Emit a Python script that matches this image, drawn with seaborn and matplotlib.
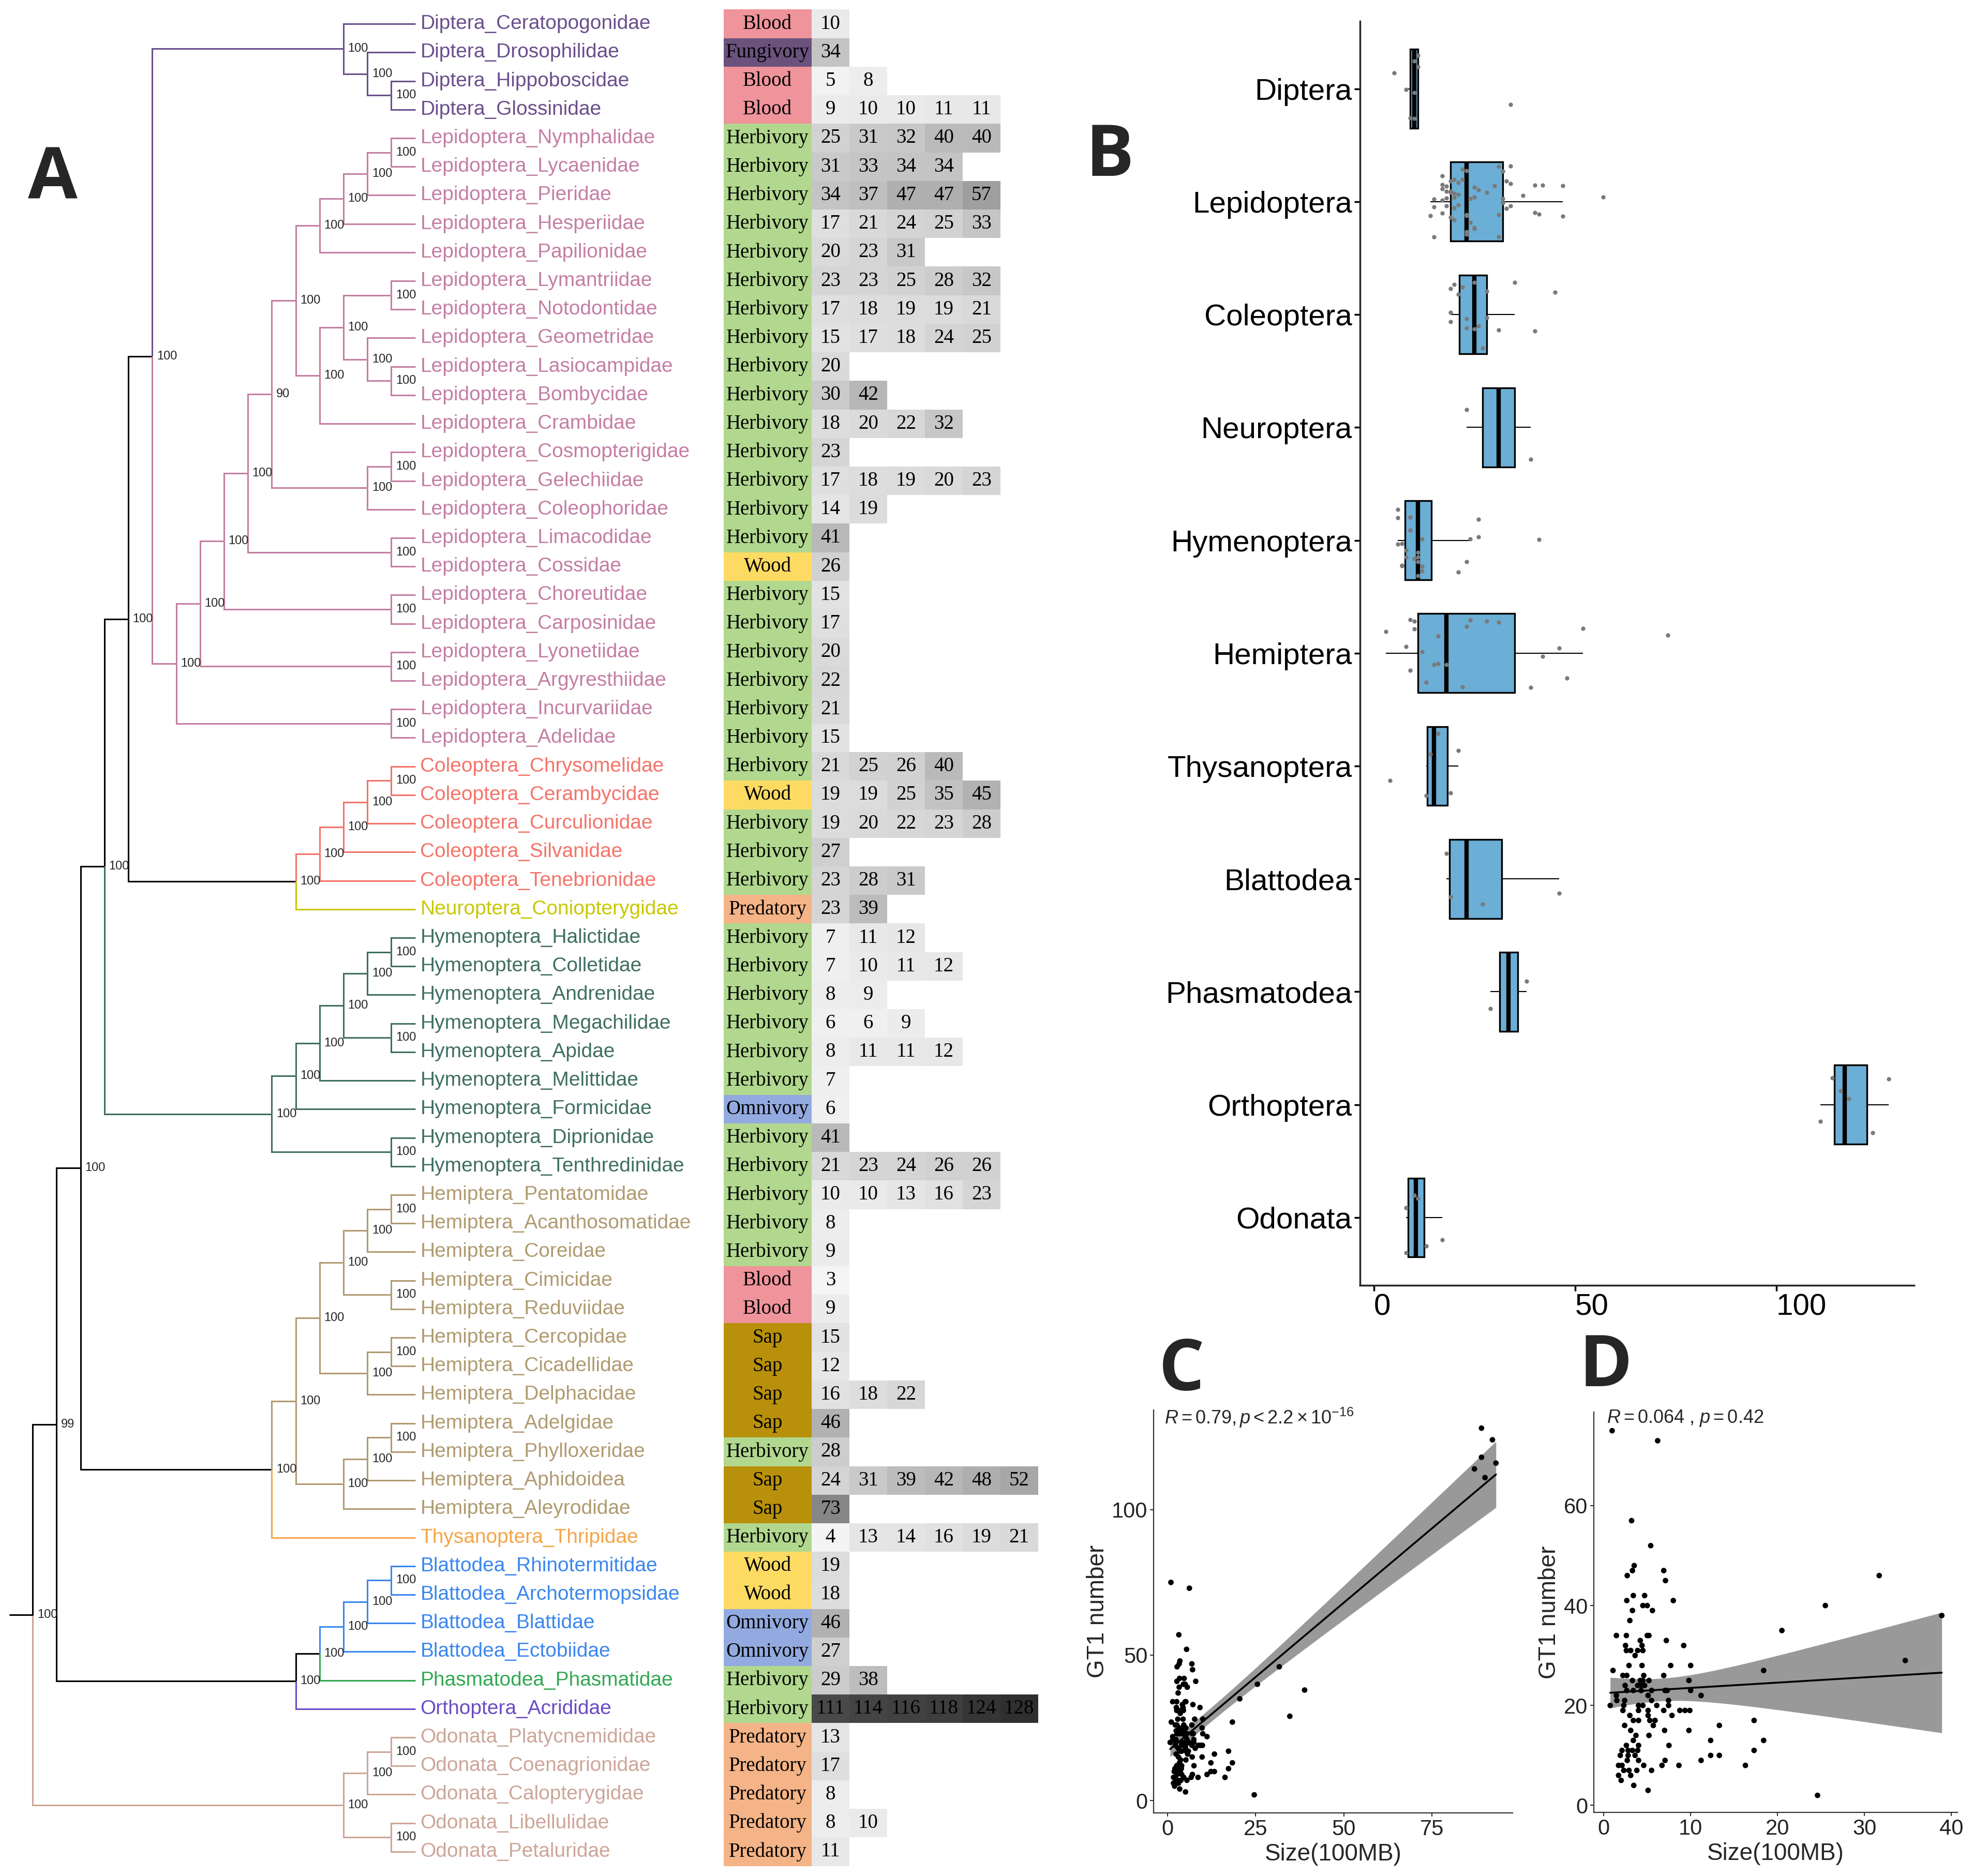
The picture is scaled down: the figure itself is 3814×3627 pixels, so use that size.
import numpy as np
import pandas as pd
import seaborn as sns
import matplotlib.pyplot as plt
from matplotlib.colors import LinearSegmentedColormap, ListedColormap


# -----------------------------
# DATA
# -----------------------------
ORDER_COLORS = {
    "Diptera": "#6A4F8C", "Lepidoptera": "#C47EA3", "Coleoptera": "#F37469",
    "Neuroptera": "#C8C800", "Hymenoptera": "#3F6E62", "Hemiptera": "#B09A70",
    "Thysanoptera": "#F5A547", "Blattodea": "#3A86EE", "Phasmatodea": "#33A852",
    "Orthoptera": "#6A4BC4", "Odonata": "#CCA698",
}

DIET_KEYS = ["Blood", "Fungivory", "Herbivory", "Wood", "Predatory", "Omnivory", "Sap"]
DIET_COLORS = ["#EF949B", "#6A527D", "#B1D88E", "#FDDB63", "#F4B487", "#92AADF", "#B8900A"]

# diet per family, top to bottom
DIET = [
    "Blood", "Fungivory", "Blood", "Blood",
    "Herbivory", "Herbivory", "Herbivory", "Herbivory", "Herbivory",
    "Herbivory", "Herbivory", "Herbivory", "Herbivory", "Herbivory", "Herbivory",
    "Herbivory", "Herbivory", "Herbivory", "Herbivory", "Wood", "Herbivory", "Herbivory",
    "Herbivory", "Herbivory", "Herbivory", "Herbivory",
    "Herbivory", "Wood", "Herbivory", "Herbivory", "Herbivory", "Predatory",
    "Herbivory", "Herbivory", "Herbivory", "Herbivory", "Herbivory", "Herbivory",
    "Omnivory", "Herbivory", "Herbivory",
    "Herbivory", "Herbivory", "Herbivory", "Blood", "Blood", "Sap", "Sap", "Sap",
    "Sap", "Herbivory", "Sap", "Sap",
    "Herbivory",
    "Wood", "Wood", "Omnivory", "Omnivory", "Herbivory", "Herbivory",
    "Predatory", "Predatory", "Predatory", "Predatory", "Predatory",
]

# GT1 numbers of the species in each family, top to bottom
GT1 = [
    [10], [34], [5, 8], [9, 10, 10, 11, 11],
    [25, 31, 32, 40, 40], [31, 33, 34, 34], [34, 37, 47, 47, 57], [17, 21, 24, 25, 33], [20, 23, 31],
    [23, 23, 25, 28, 32], [17, 18, 19, 19, 21], [15, 17, 18, 24, 25], [20], [30, 42], [18, 20, 22, 32],
    [23], [17, 18, 19, 20, 23], [14, 19], [41], [26], [15], [17], [20], [22], [21], [15],
    [21, 25, 26, 40], [19, 19, 25, 35, 45], [19, 20, 22, 23, 28], [27], [23, 28, 31], [23, 39],
    [7, 11, 12], [7, 10, 11, 12], [8, 9], [6, 6, 9], [8, 11, 11, 12], [7], [6], [41], [21, 23, 24, 26, 26],
    [10, 10, 13, 16, 23], [8], [9], [3], [9], [15], [12], [16, 18, 22], [46], [28],
    [24, 31, 39, 42, 48, 52], [73],
    [4, 13, 14, 16, 19, 21],
    [19], [18], [46], [27], [29, 38], [111, 114, 116, 118, 124, 128],
    [13], [17], [8], [8, 10], [11],
]

ORDERS_B = ["Diptera", "Lepidoptera", "Coleoptera", "Neuroptera", "Hymenoptera", "Hemiptera",
            "Thysanoptera", "Blattodea", "Phasmatodea", "Orthoptera", "Odonata"]

# genome size (100MB) vs GT1 number, all species except Orthoptera
SIZE = [0.96, 6.2, 3.2, 5.4, 3.5, 3.3, 2.7, 6.9, 7.1, 2.65, 3.4, 4.7, 8.0,
        4.5, 5.0, 3.3, 5.6, 3.0, 1.45, 2.6, 5.0, 5.2, 4.2, 7.2, 2.5, 4.4, 9.2,
        2.6, 3.1, 3.9, 4.5, 3.6, 2.9, 4.4, 7.7, 10.0, 1.06, 2.2, 2.65, 4.6, 6.9,
        3.3, 4.2, 4.5, 5.2, 9.8, 2.45, 3.9, 4.3, 4.7, 2.65, 3.4, 4.3, 5.5, 7.05,
        7.3, 10.0, 1.45, 5.1, 11.2, 1.5, 2.4, 5.5, 7.45, 0.74, 2.3, 4.0, 4.5, 6.1,
        7.45, 2.2, 4.0, 5.1, 6.9, 8.75, 9.35, 9.9, 3.0, 5.1, 7.85, 3.4, 4.0, 5.3,
        5.9, 2.4, 5.7, 13.3, 3.1, 7.0, 9.8, 3.7, 5.2, 3.4, 12.3, 2.6, 4.0, 7.5,
        2.1, 2.8, 3.3, 3.9, 1.9, 2.8, 3.6, 12.3, 13.3, 2.7, 4.0, 7.05, 11.2, 1.7,
        2.1, 4.6, 6.7, 8.65, 2.3, 2.9, 3.8, 5.5, 1.7, 3.1, 2.0, 3.45, 5.1,
        31.7, 25.5, 20.5, 38.9, 34.7, 18.4, 17.3, 18.4, 17.3, 16.3, 24.6]
COUNT = [75, 73, 57, 52, 48, 47, 46, 47, 45, 41, 42, 42, 41,
         40, 40, 39, 39, 37, 34, 34, 34, 34, 33, 33, 32, 32, 32,
         31, 31, 31, 31, 30, 28, 28, 28, 28, 27, 26, 26, 26, 26,
         25, 25, 25, 25, 25, 24, 24, 24, 24, 23, 23, 23, 23, 23,
         23, 23, 22, 22, 22, 21, 21, 21, 21, 20, 20, 20, 20, 20,
         20, 19, 19, 19, 19, 19, 19, 19, 18, 18, 18, 17, 17, 17,
         17, 16, 16, 16, 15, 15, 15, 14, 14, 13, 13, 12, 12, 12,
         11, 11, 11, 11, 10, 10, 10, 10, 10, 9, 9, 9, 9, 8,
         8, 8, 8, 8, 7, 7, 7, 7, 6, 6, 5, 4, 3,
         46, 40, 35, 38, 29, 27, 17, 13, 11, 8, 2]
SIZE_ORTHO = [89.1, 92.2, 89.1, 87.1, 93.2, 90.1]
COUNT_ORTHO = [128, 124, 118, 114, 116, 111]


# -----------------------------
# TREE (cladogram, bootstrap values)
# -----------------------------
def clade(a, b, support=100):
    return {"kids": [a, b], "support": support}


dip = clade("Diptera_Ceratopogonidae",
            clade("Diptera_Drosophilidae", clade("Diptera_Hippoboscidae", "Diptera_Glossinidae")))
papil = clade(clade(clade(clade("Lepidoptera_Nymphalidae", "Lepidoptera_Lycaenidae"),
                          "Lepidoptera_Pieridae"), "Lepidoptera_Hesperiidae"), "Lepidoptera_Papilionidae")
bomb = clade(clade(clade("Lepidoptera_Lymantriidae", "Lepidoptera_Notodontidae"),
                   clade("Lepidoptera_Geometridae",
                         clade("Lepidoptera_Lasiocampidae", "Lepidoptera_Bombycidae"))),
             "Lepidoptera_Crambidae")
gel = clade(clade("Lepidoptera_Cosmopterigidae", "Lepidoptera_Gelechiidae"), "Lepidoptera_Coleophoridae")
lep = clade(clade(clade(clade(clade(clade(papil, bomb), gel, 90),
                              clade("Lepidoptera_Limacodidae", "Lepidoptera_Cossidae")),
                        clade("Lepidoptera_Choreutidae", "Lepidoptera_Carposinidae")),
                  clade("Lepidoptera_Lyonetiidae", "Lepidoptera_Argyresthiidae")),
            clade("Lepidoptera_Incurvariidae", "Lepidoptera_Adelidae"))
col = clade(clade(clade(clade(clade("Coleoptera_Chrysomelidae", "Coleoptera_Cerambycidae"),
                              "Coleoptera_Curculionidae"), "Coleoptera_Silvanidae"),
                  "Coleoptera_Tenebrionidae"), "Neuroptera_Coniopterygidae")
hym = clade(clade(clade(clade(clade(clade("Hymenoptera_Halictidae", "Hymenoptera_Colletidae"),
                                    "Hymenoptera_Andrenidae"),
                              clade("Hymenoptera_Megachilidae", "Hymenoptera_Apidae")),
                        "Hymenoptera_Melittidae"), "Hymenoptera_Formicidae"),
            clade("Hymenoptera_Diprionidae", "Hymenoptera_Tenthredinidae"))
hem = clade(clade(clade(clade(clade("Hemiptera_Pentatomidae", "Hemiptera_Acanthosomatidae"),
                              "Hemiptera_Coreidae"),
                        clade("Hemiptera_Cimicidae", "Hemiptera_Reduviidae")),
                  clade(clade("Hemiptera_Cercopidae", "Hemiptera_Cicadellidae"), "Hemiptera_Delphacidae")),
            clade(clade(clade("Hemiptera_Adelgidae", "Hemiptera_Phylloxeridae"), "Hemiptera_Aphidoidea"),
                  "Hemiptera_Aleyrodidae"))
bpo = clade(clade(clade(clade(clade("Blattodea_Rhinotermitidae", "Blattodea_Archotermopsidae"),
                              "Blattodea_Blattidae"), "Blattodea_Ectobiidae"),
                  "Phasmatodea_Phasmatidae"), "Orthoptera_Acrididae")
odo = clade(clade(clade("Odonata_Platycnemididae", "Odonata_Coenagrionidae"), "Odonata_Calopterygidae"),
            clade("Odonata_Libellulidae", "Odonata_Petaluridae"))
TREE = clade(clade(clade(clade(clade(clade(dip, lep), col), hym), clade(hem, "Thysanoptera_Thripidae")),
                   bpo, 99), odo)

TIP_X, STEP, LABEL_X = 330, 19, 334

tips = []


def layout(node):
    if isinstance(node, str):
        tips.append(node)
        return {"y": len(tips) - 1, "h": 0, "orders": {node.split("_")[0]}, "kids": [], "name": node}
    kids = [layout(k) for k in node["kids"]]
    return {"y": np.mean([k["y"] for k in kids]), "h": 1 + max(k["h"] for k in kids),
            "orders": set().union(*[k["orders"] for k in kids]), "kids": kids,
            "support": node["support"]}


root = layout(TREE)


def xpos(n):
    return TIP_X - STEP * n["h"]


# -----------------------------
# STYLE
# -----------------------------
sns.set_style("ticks")
plt.rcParams["font.family"] = ["Liberation Sans", "DejaVu Sans"]
plt.rcParams["mathtext.fontset"] = "custom"
plt.rcParams["mathtext.rm"] = "Liberation Sans"
plt.rcParams["mathtext.it"] = "Liberation Sans:italic"

fig = plt.figure(figsize=(38.14, 36.27), dpi=100)

# -----------------------------
# PANEL A: TREE
# -----------------------------
ax_tree = fig.add_axes([0.0, 0.00537, 0.3667, 0.98953])
ax_tree.set_xlim(0, 575)
ax_tree.set_ylim(len(tips) - 0.5, -0.5)
ax_tree.axis("off")


def draw(node):
    for k in node["kids"]:
        c = ORDER_COLORS[next(iter(k["orders"]))] if len(k["orders"]) == 1 else "black"
        ax_tree.plot([xpos(node), xpos(node), xpos(k)], [node["y"], k["y"], k["y"]],
                     color=c, lw=2.2, solid_joinstyle="miter", solid_capstyle="butt")
        draw(k)
    if node["kids"]:
        ax_tree.text(xpos(node) + 3.5, node["y"], str(node["support"]), fontsize=17,
                     ha="left", va="center")
    else:
        ax_tree.text(LABEL_X, node["y"], node["name"], fontsize=28, ha="left", va="center",
                     color=ORDER_COLORS[node["name"].split("_")[0]])


draw(root)
ax_tree.plot([xpos(root) - 18, xpos(root)], [root["y"], root["y"]], color="black", lw=2.2)

# -----------------------------
# PANEL A: DIET + GT1 HEATMAPS
# -----------------------------
ax_diet = fig.add_axes([0.36671, 0.00537, 0.04464, 0.98953])
codes = np.array([DIET_KEYS.index(d) for d in DIET]).reshape(-1, 1)
sns.heatmap(codes, ax=ax_diet, cmap=ListedColormap(DIET_COLORS), vmin=-0.5,
            vmax=len(DIET_KEYS) - 0.5, cbar=False, annot=np.array(DIET).reshape(-1, 1), fmt="",
            annot_kws={"fontsize": 28, "family": "Liberation Serif", "color": "black"},
            xticklabels=False, yticklabels=False, linewidths=0)

mat = np.full((len(GT1), 6), np.nan)
for i, vals in enumerate(GT1):
    mat[i, :len(vals)] = vals
ax_num = fig.add_axes([0.41135, 0.00537, 0.11480, 0.98953])
grey = LinearSegmentedColormap.from_list("grey", ["#FAFAFA", "#2F2F2F"])
sns.heatmap(mat, ax=ax_num, cmap=grey, vmin=0, vmax=128, cbar=False, annot=True, fmt=".0f",
            annot_kws={"fontsize": 28, "family": "Liberation Serif", "color": "black"},
            xticklabels=False, yticklabels=False, linewidths=0)
for a in (ax_diet, ax_num):
    a.set_xticks([])
    a.set_yticks([])

# -----------------------------
# PANEL B: BOXPLOT BY ORDER
# -----------------------------
rows = []
for name, vals in zip(tips, GT1):
    for v in vals:
        rows.append({"order": name.split("_")[0], "gt1": v})
df_b = pd.DataFrame(rows)

np.random.seed(3)
ax_b = fig.add_axes([0.6894, 0.3149, 0.2806, 0.6739])
sns.boxplot(data=df_b, x="gt1", y="order", order=ORDERS_B, orient="h", color="#6BAED6",
            saturation=1, width=0.7, linecolor="black", linewidth=2.4, showcaps=False,
            showfliers=False, whiskerprops={"linewidth": 1.5}, medianprops={"linewidth": 6},
            ax=ax_b)
sns.stripplot(data=df_b, x="gt1", y="order", order=ORDERS_B, orient="h", color="#7a7a7a",
              size=6, jitter=0.33, ax=ax_b, zorder=3)
ax_b.set_xlim(-3.4, 134.2)
ax_b.set_ylim(10.6, -0.6)
ax_b.set_xticks([0, 50, 100])
ax_b.set_xlabel("")
ax_b.set_ylabel("")
ax_b.tick_params(labelsize=42, length=8, width=2.5, colors="black")
plt.setp(ax_b.get_xticklabels(), ha="left")
sns.despine(ax=ax_b)
for s in ("left", "bottom"):
    ax_b.spines[s].set_linewidth(2.5)


# -----------------------------
# PANELS C, D: SIZE VS GT1
# -----------------------------
def scatter_panel(ax, x, y, xticks, yticks, xlim, ylim, note, nx, ny):
    x = np.asarray(x, float)
    y = np.asarray(y, float)
    # linear fit with 95% confidence band (t-based, like geom_smooth(method="lm"))
    b1, b0 = np.polyfit(x, y, 1)
    n = len(x)
    s = np.sqrt(np.sum((y - (b0 + b1 * x)) ** 2) / (n - 2))
    grid = np.linspace(x.min(), x.max(), 200)
    se = s * np.sqrt(1 / n + (grid - x.mean()) ** 2 / np.sum((x - x.mean()) ** 2))
    fit = b0 + b1 * grid
    ax.fill_between(grid, fit - 1.977 * se, fit + 1.977 * se, color="#999999", lw=0, zorder=1)
    sns.regplot(x=x, y=y, scatter=False, ci=None, color="black", line_kws={"lw": 2.6, "zorder": 2},
                ax=ax)
    sns.scatterplot(x=x, y=y, color="black", s=60, edgecolor="none", ax=ax, zorder=4)
    ax.set_xlim(*xlim)
    ax.set_ylim(*ylim)
    ax.set_xticks(xticks)
    ax.set_yticks(yticks)
    ax.set_xlabel("Size(100MB)", fontsize=33)
    ax.set_ylabel("GT1 number", fontsize=33)
    ax.tick_params(labelsize=30, length=5, width=1.5, colors="#333333", labelcolor="#222222")
    sns.despine(ax=ax)
    for side in ("left", "bottom"):
        ax.spines[side].set_linewidth(1.6)
        ax.spines[side].set_color("#333333")
    ax.text(nx, ny, note, transform=ax.transAxes, fontsize=26, ha="left", va="center")


ax_c = fig.add_axes([0.5848, 0.0335, 0.1818, 0.2150])
scatter_panel(ax_c, SIZE + SIZE_ORTHO, COUNT + COUNT_ORTHO, [0, 25, 50, 75], [0, 50, 100],
              (-3.9, 97.9), (-4.3, 134.3),
              r"$\mathit{R}=0.79, \mathit{p} < 2.2\times10^{-16}$", 0.03, 0.98)

ax_d = fig.add_axes([0.8078, 0.0338, 0.1843, 0.2134])
scatter_panel(ax_d, SIZE, COUNT, [0, 10, 20, 30, 40], [0, 20, 40, 60],
              (-1.15, 40.7), (-1.45, 78.7),
              r"$\mathit{R}=0.064$ , $\mathit{p}=0.42$", 0.036, 0.985)

# -----------------------------
# PANEL LETTERS
# -----------------------------
for letter, (lx, ly) in {"A": (0.0268, 0.904), "B": (0.5625, 0.9162),
                         "C": (0.5989, 0.2689), "D": (0.8138, 0.271)}.items():
    fig.text(lx, ly, letter, fontsize=100, fontweight="bold", family="Open Sans",
             ha="center", va="center")

fig.savefig("out.png", dpi=100)
